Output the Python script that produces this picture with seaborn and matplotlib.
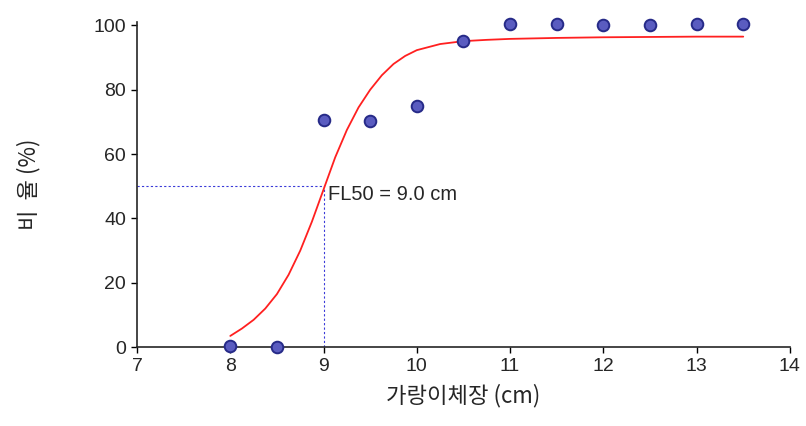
import matplotlib
matplotlib.use("Agg")
import matplotlib.pyplot as plt
import numpy as np
import pandas as pd
import seaborn as sns

# observed retention (%) by fork length (cm)
length_cm = [8.0, 8.5, 9.0, 9.5, 10.0, 10.5, 11.0, 11.5, 12.0, 12.5, 13.0, 13.5]
retention = [0.5, 0.0, 70.5, 70.3, 74.8, 95.0, 100.3, 100.3, 100.2, 100.0, 100.3, 100.3]

# fitted selection curve
curve_x = [8.0, 8.125, 8.25, 8.375, 8.5, 8.625, 8.75, 8.875, 9.0, 9.125, 9.25,
           9.375, 9.5, 9.625, 9.75, 9.875, 10.0, 10.25, 10.5, 10.75, 11.0,
           11.5, 12.0, 12.5, 13.0, 13.5]
curve_y = [3.5, 5.8, 8.5, 12.0, 16.5, 22.5, 30.0, 39.0, 49.0, 59.0, 67.5,
           74.5, 80.0, 84.5, 88.0, 90.5, 92.3, 94.2, 95.1, 95.5, 95.8,
           96.1, 96.3, 96.4, 96.5, 96.5]

fl50 = 9.0
xticks = [7, 8, 9, 10, 11, 12, 13, 14]
yticks = [0, 20, 40, 60, 80, 100]

sns.set_style("ticks")
plt.rcParams["font.family"] = ["Liberation Sans", "Noto Sans CJK KR", "DejaVu Sans"]

obs = pd.DataFrame({"length": length_cm, "pct": retention})
fit = pd.DataFrame({"length": curve_x, "pct": curve_y})

fig = plt.figure(figsize=(8.06, 4.26), dpi=100)
ax = fig.add_axes([0.170, 0.185, 0.810, 0.763])

# reference lines at FL50
ax.plot([7, fl50], [50, 50], color="#3a3ad8", lw=0.8, ls=(0, (2, 2)))
ax.plot([fl50, fl50], [0, 50], color="#3a3ad8", lw=0.8, ls=(0, (2, 2)))

sns.lineplot(data=fit, x="length", y="pct", ax=ax, color="#ff2020", lw=1.3)
sns.scatterplot(data=obs, x="length", y="pct", ax=ax, s=70, color="#5a5cc0",
                edgecolor="#262a88", linewidth=1.4, zorder=5, clip_on=False)

ax.text(9.05, 47.5, "FL50 = 9.0 cm", fontsize=14.5, ha="left", va="center")

ax.set_xlim(7, 14)
ax.set_ylim(0, 101)
ax.set_xticks(xticks)
ax.set_yticks(yticks)
ax.tick_params(labelsize=14, length=4, width=1, color="black", pad=4)
ax.set_xlabel("가랑이체장 (cm)", fontsize=16, family=["Noto Sans CJK KR"], labelpad=6)
ax.set_ylabel("비  율 (%)", fontsize=16, family=["Noto Sans CJK KR"], labelpad=38)

for spine in ["top", "right"]:
    ax.spines[spine].set_visible(False)
for spine in ["left", "bottom"]:
    ax.spines[spine].set_linewidth(1.2)

fig.savefig("out.png", dpi=100)
